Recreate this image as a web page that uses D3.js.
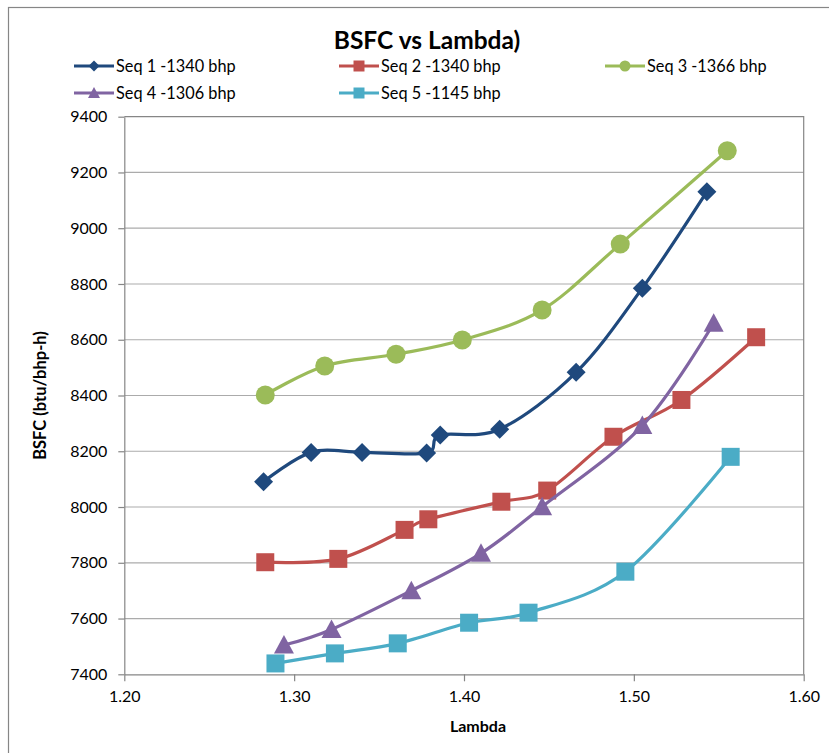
<!DOCTYPE html>
<html>
<head>
<meta charset="utf-8">
<script src="https://cdn.jsdelivr.net/npm/d3@7"></script>
<style>
  html, body { margin: 0; padding: 0; background: #ffffff; }
  svg { display: block; }
  text { font-family: Lato, "Open Sans", sans-serif; fill: #000; }
</style>
</head>
<body>
<svg id="chart" width="829" height="753"></svg>
<script>
// ---- data -------------------------------------------------------------
const seriesNames = ["Seq 1 -1340 bhp", "Seq 2 -1340 bhp", "Seq 3 -1366 bhp", "Seq 4 -1306 bhp", "Seq 5 -1145 bhp"];
const seriesColors = ["#1F497D", "#C0504D", "#9BBB59", "#8064A2", "#4BACC6"];
const seriesMarkers = ["diamond", "square", "circle", "triangle", "square"];

const seq1Lambda = [1.282, 1.310, 1.340, 1.378, 1.386, 1.421, 1.466, 1.505, 1.543];
const seq1Bsfc   = [8091, 8196, 8196, 8194, 8258, 8279, 8483, 8785, 9131];

const seq2Lambda = [1.283, 1.326, 1.365, 1.379, 1.422, 1.449, 1.488, 1.528, 1.572];
const seq2Bsfc   = [7802, 7814, 7918, 7956, 8019, 8059, 8252, 8384, 8609];

const seq3Lambda = [1.283, 1.318, 1.360, 1.399, 1.446, 1.492, 1.555];
const seq3Bsfc   = [8402, 8506, 8548, 8599, 8707, 8943, 9278];

const seq4Lambda = [1.294, 1.322, 1.369, 1.410, 1.446, 1.505, 1.547];
const seq4Bsfc   = [7505, 7561, 7700, 7834, 8001, 8292, 8659];

const seq5Lambda = [1.289, 1.324, 1.361, 1.403, 1.438, 1.495, 1.557];
const seq5Bsfc   = [7439, 7475, 7511, 7585, 7621, 7768, 8180];

const xTicks = [1.20, 1.30, 1.40, 1.50, 1.60];
const yTicks = [7400, 7600, 7800, 8000, 8200, 8400, 8600, 8800, 9000, 9200, 9400];

const titleText = "BSFC vs Lambda)";
const xLabelText = "Lambda";
const yLabelText = "BSFC (btu/bhp-h)";

// ---- layout -----------------------------------------------------------
const plot = { left: 124.3, right: 803.7, top: 116.7, bottom: 674.3 };

const svg = d3.select("#chart");

// outer chart frame
svg.append("rect")
  .attr("x", 8.5).attr("y", 7.5)
  .attr("width", 860).attr("height", 780)
  .attr("fill", "#fff")
  .attr("stroke", "#868686").attr("stroke-width", 1.2);

const x = d3.scaleLinear().domain([1.20, 1.60]).range([plot.left, plot.right]);
const y = d3.scaleLinear().domain([7400, 9400]).range([plot.bottom, plot.top]);

// horizontal gridlines
svg.append("g")
  .selectAll("line")
  .data(yTicks.slice(1, -1))
  .join("line")
  .attr("x1", plot.left).attr("x2", plot.right)
  .attr("y1", d => y(d)).attr("y2", d => y(d))
  .attr("stroke", "#ababab").attr("stroke-width", 1.2);

// plot area border (top and right)
svg.append("path")
  .attr("d", `M${plot.left},${plot.top}H${plot.right}V${plot.bottom}`)
  .attr("fill", "none").attr("stroke", "#868686").attr("stroke-width", 1.2);

// axes
const xAxis = d3.axisBottom(x).tickValues(xTicks).tickFormat(d3.format(".2f"))
  .tickSizeInner(7).tickSizeOuter(0).tickPadding(9);
const yAxis = d3.axisLeft(y).tickValues(yTicks).tickFormat(d3.format("d"))
  .tickSizeInner(6).tickSizeOuter(0).tickPadding(11);

const gx = svg.append("g").attr("transform", `translate(0,${plot.bottom})`).call(xAxis);
const gy = svg.append("g").attr("transform", `translate(${plot.left},0)`).call(yAxis);

[gx, gy].forEach(g => {
  g.select(".domain").attr("stroke", "#868686").attr("stroke-width", 1.2);
  g.selectAll(".tick line").attr("stroke", "#868686").attr("stroke-width", 1.2);
  g.selectAll(".tick text")
    .attr("font-family", "Lato, sans-serif")
    .attr("font-size", 16)
    .attr("fill", "#1a1a1a");
});

// axis titles
svg.append("text")
  .attr("x", 478).attr("y", 732)
  .attr("text-anchor", "middle")
  .attr("font-size", 16).attr("font-weight", "bold")
  .text(xLabelText);

svg.append("text")
  .attr("transform", `translate(46,${(plot.top + plot.bottom) / 2}) rotate(-90)`)
  .attr("text-anchor", "middle")
  .attr("font-size", 16.5).attr("font-weight", "bold")
  .text(yLabelText);

// chart title
svg.append("text")
  .attr("x", 427).attr("y", 49)
  .attr("text-anchor", "middle")
  .attr("font-size", 24.5).attr("font-weight", "bold")
  .text(titleText);

// ---- series -----------------------------------------------------------
const seriesData = [
  [seq1Lambda, seq1Bsfc],
  [seq2Lambda, seq2Bsfc],
  [seq3Lambda, seq3Bsfc],
  [seq4Lambda, seq4Bsfc],
  [seq5Lambda, seq5Bsfc]
].map(([xs, ys], i) => ({
  name: seriesNames[i],
  color: seriesColors[i],
  marker: seriesMarkers[i],
  points: xs.map((v, j) => ({ lambda: v, bsfc: ys[j] }))
}));

// marker shape centred on (0,0); s is the overall size in px
function markerPath(type, s) {
  const h = s / 2;
  switch (type) {
    case "diamond": return `M0,${-h}L${h},0L0,${h}L${-h},0Z`;
    case "square": return `M${-h},${-h}H${h}V${h}H${-h}Z`;
    case "triangle": return `M0,${-h}L${h},${h * 0.85}L${-h},${h * 0.85}Z`;
    case "circle": return d3.arc()({ innerRadius: 0, outerRadius: h, startAngle: 0, endAngle: 2 * Math.PI });
  }
}
const markerSize = { diamond: 19, square: 18, circle: 19, triangle: 20 };

const line = d3.line()
  .x(d => x(d.lambda))
  .y(d => y(d.bsfc))
  .curve(d3.curveCardinal.tension(0));

const gSeries = svg.append("g");
seriesData.forEach(s => {
  const g = gSeries.append("g");
  g.append("path")
    .attr("d", line(s.points))
    .attr("fill", "none")
    .attr("stroke", s.color)
    .attr("stroke-width", 3.2)
    .attr("stroke-linejoin", "round")
    .attr("stroke-linecap", "round");
  g.selectAll("path.mk")
    .data(s.points)
    .join("path")
    .attr("class", "mk")
    .attr("transform", d => `translate(${x(d.lambda)},${y(d.bsfc)})`)
    .attr("d", markerPath(s.marker, markerSize[s.marker]))
    .attr("fill", s.color);
});

// ---- legend -----------------------------------------------------------
const legendCols = [74, 339, 605];
const legendRows = [66, 93];
const legend = svg.append("g");
seriesData.forEach((s, i) => {
  const lx = legendCols[i % 3];
  const ly = legendRows[Math.floor(i / 3)];
  const item = legend.append("g").attr("transform", `translate(${lx},${ly})`);
  item.append("line")
    .attr("x1", 0).attr("x2", 40)
    .attr("y1", 0).attr("y2", 0)
    .attr("stroke", s.color).attr("stroke-width", 3.2);
  item.append("path")
    .attr("transform", "translate(20,0)")
    .attr("d", markerPath(s.marker, s.marker === "triangle" ? 12 : 11))
    .attr("fill", s.color);
  item.append("text")
    .attr("x", 42).attr("y", 6)
    .attr("font-size", 16.3)
    .text(s.name);
});
</script>
</body>
</html>
